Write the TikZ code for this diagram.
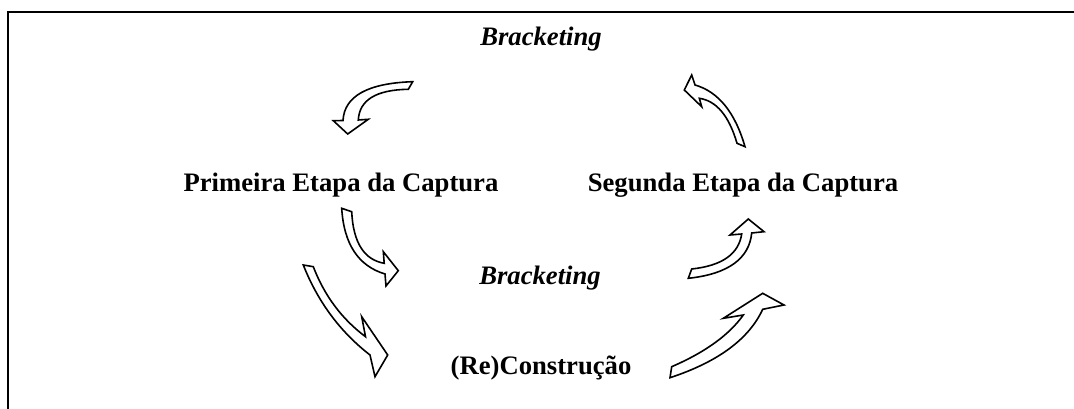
\documentclass[tikz,border=0pt]{standalone}
\usepackage{fontspec}
\setmainfont{Liberation Serif}

\begin{document}
\begin{tikzpicture}[x=0.75pt, y=-0.75pt]
        \tikzstyle{every node}+=[inner sep=0pt, anchor=base, font=\fontsize{20}{24}\selectfont\bfseries]
        \tikzstyle{phase}=[font=\fontsize{20}{24}\selectfont\bfseries\itshape]
        \tikzstyle{blockarrow}=[draw=black, fill=white, line width=1.2pt, line join=miter]
        \useasboundingbox (0,0) rectangle (1074,409);

        \draw [black, line width=1.6pt] (8,409) -- (8,12) -- (1074,12);

        \node [phase] (bracket1) at (541,46) {Bracketing};
        \node (primeira) at (341,192) {Primeira Etapa da Captura};
        \node (segunda) at (743,192) {Segunda Etapa da Captura};
        \node [phase] (bracket2) at (540,285) {Bracketing};
        \node (recons) at (541,374) {(Re)Construção};

        % bracketing -> primeira etapa
        \draw [blockarrow] (412.7,81.7) .. controls (367.6,83.2) and (344.3,96.2) .. (343,120.5)
                -- (333.3,120.7) -- (347.7,134) -- (368.3,119.3) -- (358.3,120)
                .. controls (359.4,100) and (376.1,89.8) .. (408.3,89.3) -- cycle;

        % segunda etapa -> bracketing
        \draw [blockarrow] (737,143.3) .. controls (729,115.8) and (716.4,100.8) .. (699.3,98.3)
                -- (701.7,106.7) -- (684.3,90) -- (691.7,75) -- (695,85)
                .. controls (718.3,91.7) and (735,112.2) .. (745,146.7) -- cycle;

        % primeira etapa -> bracketing
        \draw [blockarrow] (341.7,208.3) .. controls (343.9,244.1) and (358.3,266) .. (385,274)
                -- (386,286) -- (398.3,270.7) -- (383.3,251.7) -- (384.2,263.3)
                .. controls (364.1,259.8) and (353.2,242.6) .. (351.7,211.7) -- cycle;

        % primeira etapa -> (re)construcao
        \draw [blockarrow] (303.3,265) .. controls (317.8,301.7) and (340,331.7) .. (370,355)
                -- (375,376.7) -- (387.7,355) -- (361.7,316.7) -- (365.5,336.7)
                .. controls (341.7,318.9) and (324.4,295.6) .. (313.3,266.7) -- cycle;

        % bracketing -> segunda etapa
        \draw [blockarrow] (691.7,269) .. controls (721.9,265.7) and (738.6,254.3) .. (741.7,234)
                -- (730,235) -- (748.3,219) -- (764,231.7) -- (751.7,233)
                .. controls (749.2,258.6) and (728.1,274.1) .. (688.3,278.3) -- cycle;

        % (re)construcao -> segunda etapa
        \draw [blockarrow] (671.7,366.7) .. controls (705.2,352.2) and (729.1,335) .. (743.3,315)
                -- (723.3,318.3) -- (762.7,293.3) -- (784,305) -- (762.7,309.3)
                .. controls (748.9,339.1) and (718,361.9) .. (670,377.7) -- cycle;
\end{tikzpicture}
\end{document}
